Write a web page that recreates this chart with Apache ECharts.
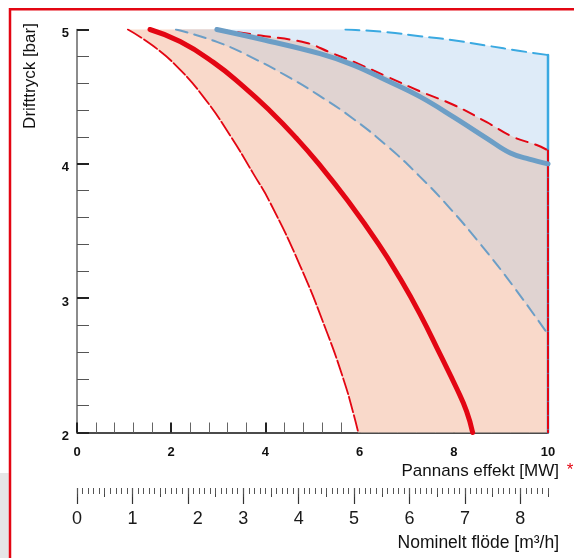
<!DOCTYPE html>
<html><head><meta charset="utf-8">
<script src="https://cdn.jsdelivr.net/npm/echarts@6.0.0/dist/echarts.min.js"></script>
<style>html,body{margin:0;padding:0;background:#fff}#c{width:574px;height:558px}</style>
</head><body><div id="c"></div>
<script>
// ---- data (x = Pannans effekt [MW], y = Drifttryck [bar]) ----
const pressureTicks = [2, 3, 4, 5];
const powerTicks = [0, 2, 4, 6, 8, 10];
const flowTicks = [0, 1, 2, 3, 4, 5, 6, 7, 8];   // Nominelt flöde [m3/h]
const flowMax = 8.5;

const m20Line  = [[1.55,5.0],[2.19,4.91],[2.89,4.757],[3.53,4.577],[4.1,4.393],[4.66,4.19],[5.12,4.005],[5.73,3.734],[6.4,3.404],[6.86,3.146],[7.28,2.883],[7.71,2.581],[8.06,2.329],[8.27,2.159],[8.4,2.0]];
const m20Lower = [[1.08,5.0],[1.62,4.877],[2.166,4.709],[2.696,4.493],[3.248,4.213],[3.743,3.927],[4.098,3.713],[4.735,3.243],[5.302,2.75],[5.669,2.384],[5.86,2.153],[5.972,2.0]];
const m20Upper = [[3.0,5.0],[3.9,4.955],[4.88,4.9],[5.37,4.83],[5.87,4.76],[6.58,4.65],[7.28,4.54],[7.99,4.44],[8.7,4.31],[9.26,4.2],[9.76,4.14],[10,4.1]];
const d20Line  = [[2.97,5.0],[4.0,4.92],[5.16,4.82],[5.87,4.735],[6.58,4.62],[7.28,4.5],[7.99,4.35],[8.7,4.19],[9.2,4.08],[9.6,4.035],[10,4.0]];
const d20Lower = [[2.1,5.0],[2.97,4.908],[3.74,4.787],[4.45,4.654],[5.12,4.513],[5.87,4.334],[6.58,4.134],[7.28,3.905],[7.9,3.676],[8.56,3.404],[9.26,3.09],[10,2.73]];
const d20Upper = [[5.7,5.0],[6.58,4.98],[7.28,4.95],[7.99,4.92],[8.7,4.88],[9.41,4.84],[10,4.81]];
const labelPoints = [{name:'M20', value:[4.56,3.94]}, {name:'D20', value:[8.58,3.94]}];

const xMax = powerTicks[powerTicks.length-1];
const yMin = pressureTicks[0], yMax = pressureTicks[pressureTicks.length-1];

// polygons built from the curve arrays
const pinkPoly = m20Lower.concat([[xMax, yMin]], m20Upper.slice().reverse());
const bluePoly = d20Lower.concat(d20Upper.slice().reverse());
const overlapPoly = d20Lower.concat(m20Upper.slice().reverse());
const blueEdge = [[xMax, d20Upper[d20Upper.length-1][1]], [xMax, yMin]];
const redEdge = [[xMax, m20Upper[m20Upper.length-1][1]], [xMax, yMin]];

const RED = '#e30613', STEEL = '#6c9ec6', SKY = '#3aa9e1';
const FF = "'Liberation Sans', Arial, Helvetica, sans-serif";

function poly(points, color) {
  return {
    type: 'custom', coordinateSystem: 'cartesian2d', xAxisIndex: 0, yAxisIndex: 0,
    silent: true, z: 1, data: [points[0]],
    renderItem: (params, api) => ({
      type: 'polygon',
      shape: { points: points.map(p => api.coord(p)) },
      style: { fill: color }
    })
  };
}
function line(data, color, width, dash, smooth, z) {
  return {
    type: 'line', xAxisIndex: 0, yAxisIndex: 0, data: data, showSymbol: false, symbol: 'none',
    smooth: smooth, silent: true, z: z || 3,
    lineStyle: { color: color, width: width, type: dash || 'solid', cap: 'round', join: 'round' }
  };
}

const chart = echarts.init(document.getElementById('c'), null, { renderer: 'canvas' });
const hiddenY = i => ({ gridIndex: i, type: 'value', show: false, min: 0, max: 1 });

chart.setOption({
  animation: false,
  backgroundColor: '#fff',
  grid: [
    { left: 77, right: 26, top: 29.5, bottom: 125.5 },
    { left: 77, right: 26, top: 488, height: 0 },
    { left: 77, right: 26, top: 488, height: 0 },
    { left: 77, right: 26, top: 488, height: 0 }
  ],
  xAxis: [
    {
      gridIndex: 0, type: 'value', min: 0, max: xMax, interval: 2,
      axisLine: { show: true, onZero: false, lineStyle: { color: '#111', width: 1.5 } },
      axisTick: { show: true, inside: true, length: 10, lineStyle: { color: '#222', width: 2 } },
      minorTick: { show: true, splitNumber: 5, length: 10, lineStyle: { color: '#666', width: 1 } },
      splitLine: { show: false }, minorSplitLine: { show: false },
      axisLabel: { fontSize: 13, fontWeight: 'bold', color: '#111', margin: 13, fontFamily: FF }
    },
    {
      gridIndex: 1, type: 'value', min: 0, max: flowMax, interval: 1,
      axisLine: { show: false },
      axisTick: { show: true, inside: false, length: 16, customValues: flowTicks, lineStyle: { color: '#333', width: 1.2 } },
      axisLabel: {
        fontSize: 18, color: '#1a1a1a', margin: 22, fontFamily: FF, customValues: flowTicks,
        formatter: v => v === 2 ? '{o|2}' : String(v),
        rich: { o: { fontSize: 18, color: '#1a1a1a', fontFamily: FF, padding: [0, 0, 0, 20] } }
      },
      splitLine: { show: false }
    },
    {
      gridIndex: 2, type: 'value', min: 0, max: flowMax, interval: 0.5,
      axisLine: { show: false },
      axisTick: { show: true, inside: false, length: 9, lineStyle: { color: '#444', width: 1 } },
      axisLabel: { show: false }, splitLine: { show: false }
    },
    {
      gridIndex: 3, type: 'value', min: 0, max: flowMax, interval: 0.1,
      axisLine: { show: false },
      axisTick: { show: true, inside: false, length: 6, lineStyle: { color: '#555', width: 1 } },
      axisLabel: { show: false }, splitLine: { show: false }
    }
  ],
  yAxis: [
    {
      gridIndex: 0, type: 'value', min: yMin, max: yMax, interval: 1,
      axisLine: { show: true, onZero: false, lineStyle: { color: '#666', width: 1.5 } },
      axisTick: { show: true, inside: true, length: 12, lineStyle: { color: '#222', width: 2 } },
      minorTick: { show: true, splitNumber: 5, length: 12, lineStyle: { color: '#555', width: 1 } },
      splitLine: { show: false }, minorSplitLine: { show: false },
      axisLabel: {
        margin: 8, formatter: v => '{s|' + v + '}',
        rich: { s: { fontSize: 13, fontWeight: 'bold', color: '#111', fontFamily: FF, padding: [8, 0, 0, 0] } }
      }
    },
    hiddenY(1), hiddenY(2), hiddenY(3)
  ],
  series: [
    poly(bluePoly, '#deebf8'),
    poly(pinkPoly, '#f9d9ca'),
    poly(overlapPoly, '#e0d3d1'),
    line(d20Upper, SKY, 2, [14, 7], 0.5, 3),
    line(blueEdge, SKY, 2.5, 'solid', false, 3),
    line(d20Lower, STEEL, 2, [12, 7], 0.5, 3),
    line(m20Lower, RED, 1.8, [16, 3], 0.5, 4),
    line(m20Upper, RED, 2, [12, 8], 0.4, 4),
    line(redEdge, RED, 2, [12, 2], false, 4),
    line(d20Line, STEEL, 5, 'solid', 0.4, 5),
    line(m20Line, RED, 5, 'solid', 0.5, 6),
    {
      type: 'scatter', xAxisIndex: 0, yAxisIndex: 0, data: labelPoints, symbolSize: 1, silent: true, z: 7,
      itemStyle: { color: 'transparent' },
      label: {
        show: true, position: 'inside', formatter: '{b}', fontSize: 20, fontFamily: FF,
        color: p => p.name === 'M20' ? RED : SKY
      }
    }
  ],
  graphic: [
    { type: 'rect', silent: true, z: 0, shape: { x: 0, y: 473, width: 8.7, height: 90 }, style: { fill: '#e6e6e6' } },
    { type: 'rect', silent: true, z: 100, shape: { x: 10, y: 9.3, width: 800, height: 800 }, style: { fill: 'none', stroke: RED, lineWidth: 2.5 } },
    { type: 'text', silent: true, x: 30, y: 76, rotation: Math.PI / 2,
      style: { text: 'Drifttryck [bar]', fontSize: 17, fontFamily: FF, fill: '#111', align: 'center', verticalAlign: 'middle' } },
    { type: 'text', silent: true, x: 559, y: 471,
      style: { text: 'Pannans effekt [MW]', fontSize: 17, fontFamily: FF, fill: '#111', align: 'right', verticalAlign: 'middle' } },
    { type: 'text', silent: true, x: 570, y: 470,
      style: { text: '*', fontSize: 17, fontFamily: FF, fill: RED, align: 'center', verticalAlign: 'middle' } },
    { type: 'text', silent: true, x: 559, y: 543,
      style: { text: 'Nominelt flöde [m³/h]', fontSize: 17.5, fontFamily: FF, fill: '#111', align: 'right', verticalAlign: 'middle' } }
  ]
});
</script>
</body></html>
